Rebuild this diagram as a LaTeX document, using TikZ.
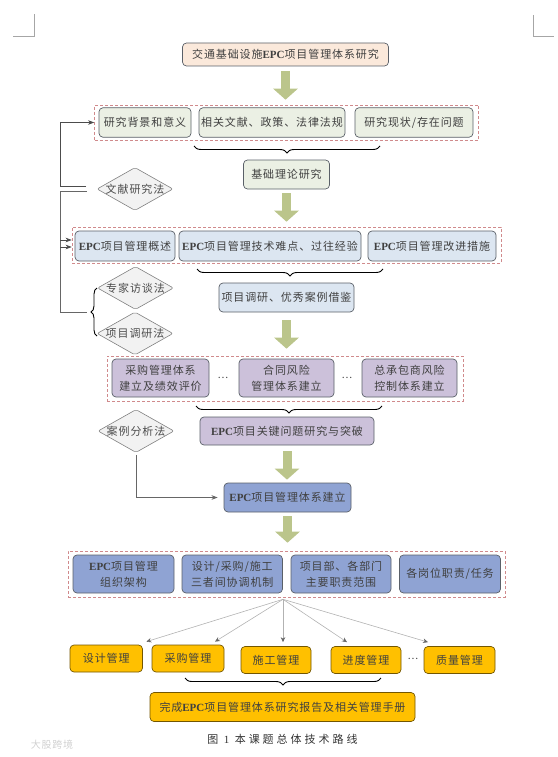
\documentclass[tikz,border=0pt]{standalone}
\usepackage{fontspec}
\setmainfont[LetterSpace=8]{Noto Sans CJK SC}
\newfontfamily\latinfont{Liberation Serif}
\usetikzlibrary{shapes.geometric, arrows.meta, decorations.pathreplacing}
\usepackage{xcolor}
\definecolor{edgegray}{HTML}{5A6068}
\definecolor{titlefill}{HTML}{FBE9DB}
\definecolor{greenfill}{HTML}{EBF0E4}
\definecolor{bluefill}{HTML}{DCE6F1}
\definecolor{purplefill}{HTML}{CCC1DA}
\definecolor{deepfill}{HTML}{8FA3D3}
\definecolor{goldfill}{HTML}{FFC000}
\definecolor{arrowgreen}{HTML}{BBC58B}
\definecolor{dashred}{HTML}{D08A8C}
\newcommand{\epc}{{\latinfont\bfseries\fontsize{11}{16}\selectfont EPC}}
\newcommand{\dtext}[1]{\makebox[0pt]{#1}}

\begin{document}
\begin{tikzpicture}[
    x = 1pt, y = -1pt,
    >=Stealth,
    box/.style = {
        rectangle, rounded corners = 4pt, draw = edgegray, line width = 0.7pt,
        inner sep = 0pt, align = center, text = black!75,
        font = \fontsize{11}{16}\selectfont
    },
    titlebox/.style = {box, fill = titlefill},
    greenbox/.style = {box, fill = greenfill},
    bluebox/.style = {box, fill = bluefill},
    purplebox/.style = {box, fill = purplefill},
    deepbox/.style = {box, fill = deepfill},
    goldbox/.style = {box, fill = goldfill, draw = black!55!goldfill},
    group/.style = {
        rectangle, draw = dashred, densely dashed, line width = 0.6pt, inner sep = 0pt
    },
    method/.style = {
        diamond, draw = black!50, fill = black!5, line width = 0.6pt,
        rounded corners = 2pt, inner sep = 0pt, text = black!70,
        minimum width = 76pt, minimum height = 43pt,
        font = \fontsize{11}{12}\selectfont
    },
    dotsnode/.style = {inner sep = 0pt, text = black!75, font = \fontsize{10}{12}\selectfont},
    bigarrow/.style = {
        draw = arrowgreen, line width = 9pt,
        -{Triangle[width = 24pt, length = 11pt]}
    },
    capbrace/.style = {
        draw = black, line width = 0.9pt,
        decorate, decoration = {brace, amplitude = 7pt}
    },
    rail/.style = {draw = black!60, line width = 0.7pt},
    railin/.style = {draw = black!70, line width = 0.7pt, ->},
    fan/.style = {draw = black!30, line width = 0.6pt, -{Stealth[black!60, length = 5pt, width = 4.5pt]}},
    cropmark/.style = {draw = black!35, line width = 0.8pt}
]
\useasboundingbox (0,0) rectangle (557,757);

% --- Crop marks ---
\draw[cropmark] (13,36) -- (34,36) -- (34,14);
\draw[cropmark] (533,15) -- (533,36) -- (554,36);

% --- Dashed groups ---
\node[group, minimum width = 384pt, minimum height = 35pt] (group1) at (286.5,122.5) {};
\node[group, minimum width = 429pt, minimum height = 36pt] (group2) at (286.5,245) {};
\node[group, minimum width = 356pt, minimum height = 45pt] (group3) at (285,378.5) {};
\node[group, minimum width = 437pt, minimum height = 46pt] (group4) at (286.5,574) {};

% --- Nodes placed by absolute coordinates ---
\node[titlebox, minimum width = 206pt, minimum height = 23pt] (title) at (285.5,54.5) {交通基础设施\epc{}项目管理体系研究};

\node[greenbox, minimum width = 92pt, minimum height = 29.5pt] (background) at (145,122.5) {研究背景和意义};
\node[greenbox, minimum width = 146pt, minimum height = 29.5pt] (policy) at (272,122.5) {相关文献、政策、法律法规};
\node[greenbox, minimum width = 118pt, minimum height = 29.5pt] (status) at (414,122.5) {研究现状/存在问题};
\node[greenbox, minimum width = 86pt, minimum height = 29pt] (theory) at (286.5,174.5) {基础理论研究};

\node[bluebox, minimum width = 100pt, minimum height = 30pt] (overview) at (125,246) {\epc{}项目管理概述};
\node[bluebox, minimum width = 182pt, minimum height = 30pt] (difficulty) at (270,246) {\epc{}项目管理技术难点、过往经验};
\node[bluebox, minimum width = 128pt, minimum height = 30pt] (improve) at (432,246) {\epc{}项目管理改进措施};
\node[bluebox, minimum width = 135pt, minimum height = 29pt] (survey) at (286.5,297.5) {项目调研、优秀案例借鉴};

\node[purplebox, minimum width = 97pt, minimum height = 38pt] (purchase sys) at (160.5,378) {采购管理体系\\建立及绩效评价};
\node[dotsnode] (dots1) at (223,378) {…};
\node[purplebox, minimum width = 95pt, minimum height = 38pt] (contract sys) at (286.5,378) {合同风险\\管理体系建立};
\node[dotsnode] (dots2) at (347,378) {…};
\node[purplebox, minimum width = 95pt, minimum height = 38pt] (risk sys) at (409.5,378) {总承包商风险\\控制体系建立};
\node[purplebox, minimum width = 174pt, minimum height = 28pt] (key) at (287,431) {\epc{}项目关键问题研究与突破};

\node[deepbox, minimum width = 127pt, minimum height = 29pt] (system) at (287.5,497.5) {\epc{}项目管理体系建立};

\node[deepbox, minimum width = 101pt, minimum height = 38pt] (org) at (123.5,574) {\epc{}项目管理\\组织架构};
\node[deepbox, minimum width = 100.5pt, minimum height = 38pt] (coord) at (232.25,574) {设计/采购/施工\\三者间协调机制};
\node[deepbox, minimum width = 100pt, minimum height = 38pt] (dept) at (341,574) {项目部、各部门\\主要职责范围};
\node[deepbox, minimum width = 101pt, minimum height = 38pt] (duty) at (450,574) {各岗位职责/任务};

\node[goldbox, minimum width = 72.5pt, minimum height = 27pt] (design) at (106.25,658.5) {设计管理};
\node[goldbox, minimum width = 72pt, minimum height = 27pt] (purchase) at (188,658.5) {采购管理};
\node[goldbox, minimum width = 70pt, minimum height = 27pt] (build) at (276,660) {施工管理};
\node[goldbox, minimum width = 70pt, minimum height = 27pt] (progress) at (366,660) {进度管理};
\node[dotsnode] (dots3) at (413,659) {…};
\node[goldbox, minimum width = 71pt, minimum height = 27pt] (quality) at (459.5,660) {质量管理};
\node[goldbox, minimum width = 265pt, minimum height = 29pt] (report) at (282.5,707) {完成\epc{}项目管理体系研究报告及相关管理手册};

\node[method] (literature) at (135,189) {\dtext{文献研究法}};
\node[method] (expert) at (135.5,288) {\dtext{专家访谈法}};
\node[method] (field) at (135,333.5) {\dtext{项目调研法}};
\node[method] (case) at (136,431) {\dtext{案例分析法}};

\node[inner sep = 0pt, text = black!80, font = \fontsize{11}{12}\selectfont] (caption) at (282.5,739) {\addfontfeature{LetterSpace=27}图 {\latinfont 1} 本课题总体技术路线};
\node[inner sep = 0pt, text = black!18, font = \fontsize{10}{12}\selectfont] (mark text) at (52,745) {大股跨境};

% --- Wide arrows ---
\draw[bigarrow, shorten <= 5pt, shorten >= 5pt] (title.south) -- (title.south |- group1.north);
\draw[bigarrow, shorten <= 4pt, shorten >= 5pt] (theory.south) -- (theory.south |- group2.north);
\draw[bigarrow, shorten <= 8pt, shorten >= 7pt] (survey.south) -- (survey.south |- group3.north);
\draw[bigarrow, shorten <= 6pt, shorten >= 3pt] (key.south) -- (key.south |- system.north);
\draw[bigarrow, shorten <= 4pt, shorten >= 8pt] (system.south) -- (system.south |- group4.north);

% --- Braces ---
\draw[capbrace] (380,146) -- (194,146);
\draw[capbrace] (383,269) -- (197,269);
\draw[capbrace] (382,406) -- (196,406);
\draw[capbrace] (381,678) -- (185,678);
\draw[capbrace, decoration = {amplitude = 6pt}] (97,336) -- (97,288);

% --- Lines on the left ---
\coordinate (litup) at (86,186);
\coordinate (litdown) at (87,191);
\coordinate (exptip) at (87,312);
\coordinate (railup) at (60,186);
\coordinate (raildown) at (60,191);
\coordinate (railfoot) at (60,312);
\coordinate (railA) at (60,240);
\coordinate (railB) at (60,247);

\draw[railin] (litup) -- (railup) |- (group1.west);
\draw[rail] (litdown) -- (raildown) -- (railfoot) -- (exptip);
\draw[railin] (railA) -- (railA -| group2.west);
\draw[railin] (railB) -- (railB -| group2.west);

\draw[rail, ->, shorten <= 2pt, shorten >= 6pt] (case.south) |- (system.west);

% --- Fan to the management tasks ---
\coordinate (fanhub) at ([xshift = -3.5pt, yshift = -2pt]group4.south);
\draw[fan] (fanhub) -- ([xshift = 3.5pt, yshift = 3pt]design.north east);
\draw[fan] (fanhub) -- ([xshift = 27pt, yshift = 3pt]purchase.north);
\draw[fan] (fanhub) -- ([xshift = 7pt, yshift = 4pt]build.north);
\draw[fan] (fanhub) -- ([xshift = -19pt, yshift = 4pt]progress.north);
\draw[fan] (fanhub) -- ([xshift = -31.5pt, yshift = 4pt]quality.north);

\end{tikzpicture}
\end{document}
